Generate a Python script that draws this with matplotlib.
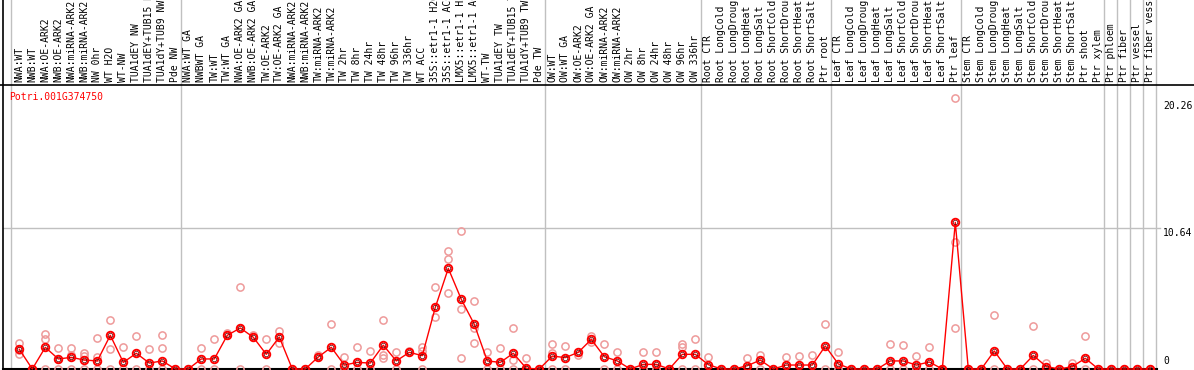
import matplotlib
matplotlib.use("Agg")
import matplotlib.pyplot as plt
import matplotlib.transforms as mtransforms

gene = "Potri.001G374750"

labels = [
    # nw
    "NWA:WT", "NWB:WT", "NWA:OE-ARK2", "NWB:OE-ARK2", "NWA:miRNA-ARK2", "NWB:miRNA-ARK2",
    "NW 0hr", "WT H2O", "WT-NW", "TUA1dEY NW", "TUA1dEY+TUB15 NW", "TUA1dY+TUB9 NW", "Pde NW",
    # tw
    "NWA:WT GA", "NWBWT GA", "TW:WT", "TW:WT GA", "NWA:OE-ARK2 GA", "NWB:OE-ARK2 GA",
    "TW:OE-ARK2", "TW:OE-ARK2 GA", "NWA:miRNA-ARK2", "NWB:miRNA-ARK2", "TW:miRNA-ARK2",
    "TW:miRNA-ARK2", "TW 2hr", "TW 8hr", "TW 24hr", "TW 48hr", "TW 96hr", "TW 336hr", "WT ACC",
    "35S::etr1-1 H2O", "35S::etr1-1 ACC", "LMX5::etr1-1 H2O", "LMX5::etr1-1 ACC", "WT-TW",
    "TUA1dEY TW", "TUA1dEY+TUB15 TW", "TUA1dY+TUB9 TW", "Pde TW",
    # ow
    "OW:WT", "OW:WT GA", "OW:OE-ARK2", "OW:OE-ARK2 GA", "OW:miRNA-ARK2", "OW:miRNA-ARK2",
    "OW 2hr", "OW 8hr", "OW 24hr", "OW 48hr", "OW 96hr", "OW 336hr",
    # root
    "Root CTR", "Root LongCold", "Root LongDrought", "Root LongHeat", "Root LongSalt",
    "Root ShortCold", "Root ShortDrought", "Root ShortHeat", "Root ShortSalt", "Ptr root",
    # leaf
    "Leaf CTR", "Leaf LongCold", "Leaf LongDrought", "Leaf LongHeat", "Leaf LongSalt",
    "Leaf ShortCold", "Leaf ShortDrought", "Leaf ShortHeat", "Leaf ShortSalt", "Ptr leaf",
    # stem
    "Stem CTR", "Stem LongCold", "Stem LongDrought", "Stem LongHeat", "Stem LongSalt",
    "Stem ShortCold", "Stem ShortDrought", "Stem ShortHeat", "Stem ShortSalt", "Ptr shoot",
    "Ptr xylem", "Ptr phloem", "Ptr fiber", "Ptr vessel", "Ptr fiber vessel",
]

# last column index of each group (separator drawn after it)
group_ends = [12, 40, 52, 62, 72, 83, 84, 85, 86, 87]

means = [
    1.49, 0, 1.64, 0.76, 0.88, 0.68, 0.61, 2.55, 0.50, 1.19, 0.45, 0.61, 0,
    0, 0.76, 0.76, 2.55, 3.10, 2.40, 1.11, 2.42, 0, 0, 0.91, 1.64, 0.30, 0.50,
    0.45, 1.80, 0.61, 1.26, 1.01, 4.66, 7.61, 5.27, 3.38, 0.61, 0.50, 1.19, 0.05, 0,
    0.98, 0.86, 1.26, 2.24, 0.93, 0.61, 0, 0.35, 0.35, 0, 1.11, 1.11,
    0.33, 0, 0, 0.25, 0.67, 0, 0.30, 0.30, 0.30, 1.74,
    0.38, 0, 0, 0, 0.61, 0.61, 0.30, 0.53, 0, 11.09,
    0, 0, 1.36, 0, 0, 1.03, 0.18, 0, 0.18, 0.81,
    0, 0, 0, 0, 0,
]

reps = [
    [1.94, 1.11, 1.42], [0, 0, 0], [2.62, 2.29, 0], [1.56, 0.72, 0], [1.56, 1.08, 0],
    [1.19, 0.98, 0], [2.32, 0.93, 0], [3.71, 1.49, 0], [1.66, 0], [2.50, 0],
    [1.49, 0], [2.55, 1.56, 0], [0],
    [0], [1.56, 0], [2.24, 0], [2.70, 2.55], [6.20, 3.10, 0], [2.57, 2.40],
    [2.24, 0], [2.87, 1.94], [0], [0], [1.03, 0.91], [3.38, 0], [0.88, 0],
    [1.66, 0], [1.36, 0], [3.71, 1.06, 0.81], [1.26, 0], [1.39], [1.69, 1.39, 0],
    [6.18, 3.91], [8.93, 8.30, 5.72], [10.44, 4.51, 0.81], [5.14, 3.08, 1.94],
    [1.26, 0], [1.61, 0], [3.08, 0.68, 0], [0.81, 0], [0],
    [1.89, 1.19, 0], [1.74, 0], [1.06], [2.50, 2.07], [1.89, 0], [1.26, 0], [0],
    [1.26, 0], [1.26, 0], [0], [1.89, 1.69, 0], [2.27, 0],
    [0.88], [0], [0], [0.81], [1.06, 0], [0], [0.93], [0.98], [1.06], [3.40, 0],
    [1.31, 0], [0], [0], [0], [1.89, 0], [1.82, 0], [0.98, 0], [1.66, 0], [0],
    [20.47, 9.63, 3.08],
    [0], [0], [4.06, 0], [0], [0], [3.25, 0], [0.48], [0], [0.48], [2.50, 0],
    [0], [0], [0], [0], [0],
]

scale_ticks = [20.26, 10.64]

W, H = 1194, 370
fig = plt.figure(figsize=(W / 100, H / 100), dpi=100)
top_px = 85
ax = fig.add_axes([0, 0, 1, (H - top_px) / H])

# pixel -> data mapping
px_col, col_w = 19.3, 13.0
px_zero, px_unit = 369, 13.22
ax.set_xlim(-px_col / col_w, (W - px_col) / col_w)
ax.set_ylim((px_zero - H) / px_unit, (px_zero - top_px) / px_unit)
ax.axis("off")

def col_of(px):
    return (px - px_col) / col_w

mono = "DejaVu Sans Mono"
above = H / (H - top_px)

# frame lines
ax.axhline((px_zero - top_px) / px_unit, color="black", lw=1.2, clip_on=False)
ax.axvline(col_of(3), ymin=0, ymax=above, color="black", lw=1.2, clip_on=False)
ax.plot([col_of(3), col_of(1157)], [0, 0], color="black", lw=1.5, zorder=1)

# grid
ax.plot([col_of(3), col_of(1160)], [scale_ticks[1]] * 2, color="#c0c0c0", lw=1, zorder=0)
ax.axvline(col_of(11), ymin=0, ymax=above, color="#c0c0c0", lw=1, clip_on=False, zorder=0)
for g in group_ends:
    ax.axvline(g + 0.4, ymin=0, ymax=above, color="#c0c0c0", lw=1, clip_on=False, zorder=0)

# column labels in header
trans = mtransforms.blended_transform_factory(ax.transData, ax.transAxes)
for i, lab in enumerate(labels):
    ax.text(i, 1 + 2.5 / (H - top_px), lab, transform=trans, rotation=90,
            ha="center", va="bottom", fontsize=7, family=mono, clip_on=False)

# replicate points
for i, vals in enumerate(reps):
    ax.plot([i] * len(vals), vals, linestyle="none", marker="o", ms=5.2,
            mfc="none", mec="#ee9a9a", mew=1.1, clip_on=False, zorder=2)

# mean line
xs = list(range(len(means)))
ax.plot(xs, means, color="red", lw=1, zorder=3)
ax.plot(xs, means, linestyle="none", marker="o", ms=5.4, mfc="none",
        mec="red", mew=1.4, clip_on=False, zorder=4)
ax.plot(xs, means, linestyle="none", marker="o", ms=3.2, mfc="none",
        mec="#600000", mew=0.5, clip_on=False, zorder=4)

# gene name
ax.text(col_of(9), (px_zero - 97) / px_unit, gene, color="red", fontsize=7,
        family=mono, ha="left", va="center")

# scale labels
for t in scale_ticks:
    ax.text(col_of(1163), t, f"{t:.2f}", fontsize=7, family=mono,
            ha="left", va="top")
ax.text(col_of(1163), 0.2, "0", fontsize=7, family=mono, ha="left", va="bottom")

fig.savefig("out.png", dpi=100)
